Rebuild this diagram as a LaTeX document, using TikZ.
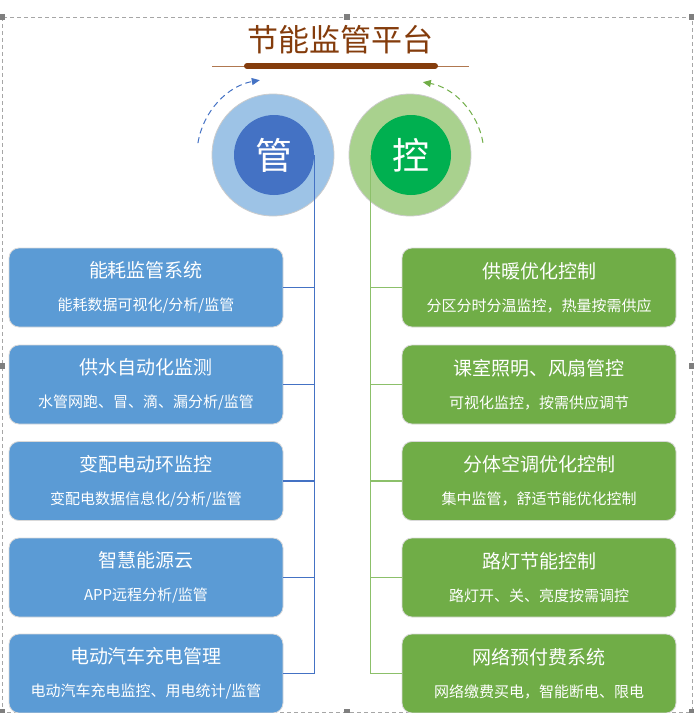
\documentclass[tikz,border=0pt]{standalone}
\usepackage{fontspec}
\setmainfont{Noto Sans CJK SC}
\usetikzlibrary{arrows.meta}
\definecolor{brownT}{HTML}{843C0C}
\definecolor{brownL}{HTML}{B07850}
\definecolor{blueO}{HTML}{9DC3E6}
\definecolor{blueI}{HTML}{4472C4}
\definecolor{blueB}{HTML}{5B9BD5}
\definecolor{greenO}{HTML}{A9D18E}
\definecolor{greenI}{HTML}{00B050}
\definecolor{greenB}{HTML}{70AD47}
\definecolor{greenL}{HTML}{8CC06A}
\definecolor{frameC}{HTML}{A6A6A6}
\definecolor{handleC}{HTML}{7F7F7F}
\tikzset{
  card/.style={rounded corners=10pt, minimum width=274pt, minimum height=79pt,
    draw=black!15, line width=0.8pt, text=white, align=center, inner sep=0pt,
    font=\fontsize{15}{18}\selectfont},
  lcard/.style={card, fill=blueB},
  rcard/.style={card, fill=greenB},
  outerc/.style={circle, draw=black!20, line width=0.8pt, minimum size=122pt, inner sep=0pt},
  innerc/.style={circle, minimum size=80pt, inner sep=0pt, text=white, font=\fontsize{37}{37}\selectfont},
  bline/.style={draw=blueI, line width=1.2pt},
  gline/.style={draw=greenL, line width=1.2pt},
  handle/.style={fill=handleC},
}
\newcommand{\cardtext}[2]{{\fontsize{19}{24}\selectfont #1}\\[15pt]{\fontsize{15}{18}\selectfont #2}}
\begin{document}
\begin{tikzpicture}[x=1pt,y=-1pt]
\useasboundingbox (0,0) rectangle (694,713);
\begin{scope}
\clip (0,0) rectangle (694,713);
% frame
\draw[frameC, line width=0.8pt, dash pattern=on 4pt off 3pt] (2,17) rectangle (692,712);
\foreach \hx/\hy in {2/17,347/17,692/17,2/366,692/366,2/712,347/712,692/712}
  \fill[handle] (\hx-3,\hy-3) rectangle (\hx+3,\hy+3);
\end{scope}

% title
\node[text=brownT, font=\fontsize{31}{31}\selectfont, inner sep=0pt] (title) at (340,40) {节能监管平台};
\draw[brownL, line width=1pt] (212,66) -- (469,66);
\draw[brownT, line width=6pt, line cap=round] (247,66) -- (435,66);

% circles
\node[outerc, fill=blueO] (gouter) at (273,155) {};
\node[innerc, fill=blueI] (guan) at (274,155) {管};
\node[outerc, fill=greenO] (kouter) at (410,155) {};
\node[innerc, fill=greenI] (kong) at (411,155) {控};

% dashed arcs
\draw[blueI, line width=1pt, dash pattern=on 6pt off 4pt, -{Triangle[length=8pt,width=7pt]}]
  (273,155) ++(189:76) arc[start angle=189, end angle=260, radius=76];
\draw[greenB, line width=1pt, dash pattern=on 6pt off 4pt, -{Triangle[length=8pt,width=7pt]}]
  (410,155) ++(-9.5:74) arc[start angle=-9.5, end angle=-80, radius=74];

% left cards
\node[lcard] (l1) at (146,287.5) {\cardtext{能耗监管系统}{能耗数据可视化/分析/监管}};
\node[lcard] (l2) at (146,384.5) {\cardtext{供水自动化监测}{水管网跑、冒、滴、漏分析/监管}};
\node[lcard] (l3) at (146,481) {\cardtext{变配电动环监控}{变配电数据信息化/分析/监管}};
\node[lcard] (l4) at (146,577.5) {\cardtext{智慧能源云}{APP远程分析/监管}};
\node[lcard] (l5) at (146,673.5) {\cardtext{电动汽车充电管理}{电动汽车充电监控、用电统计/监管}};

% right cards
\node[rcard] (r1) at (539,287.5) {\cardtext{供暖优化控制}{分区分时分温监控，热量按需供应}};
\node[rcard] (r2) at (539,384.5) {\cardtext{课室照明、风扇管控}{可视化监控，按需供应调节}};
\node[rcard] (r3) at (539,481) {\cardtext{分体空调优化控制}{集中监管，舒适节能优化控制}};
\node[rcard] (r4) at (539,577.5) {\cardtext{路灯节能控制}{路灯开、关、亮度按需调控}};
\node[rcard] (r5) at (539,673.5) {\cardtext{网络预付费系统}{网络缴费买电，智能断电、限电}};

% connectors
\coordinate (gb) at (guan.east |- l5.east);
\draw[bline] (guan.east) -- (gb);
\foreach \n in {l1,l2,l3,l4,l5} \draw[bline] (\n.east) -- (\n.east -| guan.east);
\coordinate (kb) at (kong.west |- r5.west);
\draw[gline] (kong.west) -- (kb);
\foreach \n in {r1,r2,r3,r4,r5} \draw[gline] (\n.west) -- (\n.west -| kong.west);
\end{tikzpicture}
\end{document}
